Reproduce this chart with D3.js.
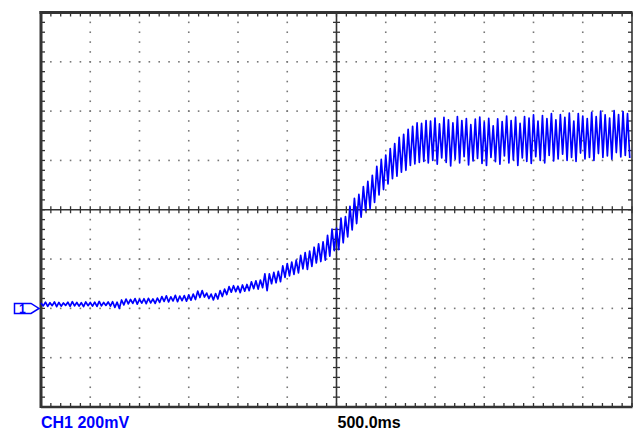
<!DOCTYPE html>
<html>
<head>
<meta charset="utf-8">
<script src="https://cdn.jsdelivr.net/npm/d3@7"></script>
<style>
  html, body { margin: 0; padding: 0; background: #fff; }
  svg { display: block; }
</style>
</head>
<body>
<svg id="scope" width="633" height="431"></svg>
<script>
// Channel 1, peak-detect acquisition: one max/min pair per time bin, in mV above ground.
const ch1Max = [
  22, 25, 23, 26, 24, 22, 25, 27, 24, 23, 26, 24, 25, 28, 24, 26, 27, 25,
  34, 38, 36, 40, 37, 39, 41, 38, 42,
  48, 51, 47, 53, 50, 52, 55, 58,
  70, 72,
  62, 58, 60,
  72, 78,
  88, 92, 90, 95, 97,
  108, 112, 115,
  140,
  140, 146, 150,
  172, 182, 188, 196,
  215, 226, 232,
  248, 262, 270,
  296, 322, 326,
  366, 372,
  414, 446,
  462, 494,
  515, 540,
  576, 604,
  622, 648,
  668, 694,
  706, 726,
  738, 752,
  750, 762,
  760, 772, 748, 775, 765, 752, 778, 762, 770, 745,
  768, 776, 755, 771, 740, 769, 758, 780, 762, 776,
  750, 778, 772, 785, 760, 782, 770, 790, 765, 786,
  775, 792, 760, 790, 780, 770, 795, 778, 800, 785,
  772, 802, 786, 798, 790
];
const ch1Min = [
  10, 8, 11, 7, 9, 12, 8, 10, 9, 7, 11, 9, 8, 10, 12, 9, 4, 0,
  14, 18, 20, 17, 21, 19, 22, 20, 24,
  28, 26, 30, 27, 31, 29, 33, 36,
  44, 46,
  40, 34, 38,
  48, 56,
  66, 68, 64, 70, 72,
  80, 78, 84,
  72,
  100, 104, 108,
  126, 132, 138, 144,
  160, 158, 170,
  184, 190, 196,
  212, 234, 238,
  266, 290,
  318, 344,
  370, 396,
  404, 430,
  460, 482,
  505, 526,
  536, 552,
  560, 580,
  586, 592,
  596, 590,
  600, 585, 610, 592, 578, 605, 590, 615, 582, 598,
  608, 588, 580, 612, 595, 585, 618, 590, 602, 580,
  610, 596, 588, 615, 600, 590, 620, 598, 606, 625,
  600, 612, 596, 630, 606, 612, 600, 628, 612, 618,
  605, 632, 614, 620, 610
];

// Front-panel settings
const voltsPerDiv = 200;     // mV / div
const timePerDiv = 500;      // ms / div
const hDivs = 12;
const vDivs = 8;
const minorPerDiv = 5;
const groundDiv = -2;        // ground reference, divisions from screen centre
const channelLabel = "CH1 200mV";
const timebaseLabel = "500.0ms";

const svg = d3.select("#scope");
const W = 633, H = 431;
const box = { left: 41, right: 632, top: 12.5, bottom: 407 };

const timeSpan = hDivs * timePerDiv;
const x = d3.scaleLinear().domain([0, timeSpan]).range([box.left, box.right]);
const vLow = (-vDivs / 2 - groundDiv) * voltsPerDiv;
const vHigh = (vDivs / 2 - groundDiv) * voltsPerDiv;
const y = d3.scaleLinear().domain([vLow, vHigh]).range([box.bottom, box.top]);

svg.append("rect").attr("width", W).attr("height", H).attr("fill", "#fff");

const frameColor = "#333";
const dotColor = "#777";
const minorT = timePerDiv / minorPerDiv;
const minorV = voltsPerDiv / minorPerDiv;
const tMinor = d3.range(0, hDivs * minorPerDiv + 1).map(i => i * minorT);
const vMinor = d3.range(0, vDivs * minorPerDiv + 1).map(i => vLow + i * minorV);
const tMajor = d3.range(1, hDivs).map(i => i * timePerDiv);
const vMajor = d3.range(1, vDivs).map(i => vLow + i * voltsPerDiv);
const tCentre = timeSpan / 2;
const vCentre = (vLow + vHigh) / 2;

// Dotted graticule
const grid = svg.append("g");
tMajor.filter(t => t !== tCentre).forEach(t => {
  grid.selectAll(null).data(vMinor).join("rect")
    .attr("x", x(t) - 0.8).attr("y", v => y(v) - 0.8)
    .attr("width", 1.6).attr("height", 1.6).attr("fill", dotColor);
});
vMajor.filter(v => v !== vCentre).forEach(v => {
  grid.selectAll(null).data(tMinor).join("rect")
    .attr("x", t => x(t) - 0.8).attr("y", y(v) - 0.8)
    .attr("width", 1.6).attr("height", 1.6).attr("fill", dotColor);
});

// Centre cross with minor ticks
const cross = svg.append("g").attr("stroke", frameColor);
cross.append("line").attr("x1", x(tCentre)).attr("x2", x(tCentre))
  .attr("y1", box.top).attr("y2", box.bottom).attr("stroke-width", 1.6);
cross.append("line").attr("x1", box.left).attr("x2", box.right)
  .attr("y1", y(vCentre)).attr("y2", y(vCentre)).attr("stroke-width", 1.6);
cross.selectAll(null).data(vMinor).join("line")
  .attr("x1", x(tCentre) - 3.5).attr("x2", x(tCentre) + 3.5)
  .attr("y1", v => y(v)).attr("y2", v => y(v)).attr("stroke-width", 1.3);
cross.selectAll(null).data(tMinor).join("line")
  .attr("x1", t => x(t)).attr("x2", t => x(t))
  .attr("y1", y(vCentre) - 3.5).attr("y2", y(vCentre) + 3.5).attr("stroke-width", 1.3);

// Frame and its inward ticks
const frame = svg.append("g").attr("stroke", frameColor).attr("fill", "none");
frame.selectAll(null).data(tMinor).join("line")
  .attr("x1", t => x(t)).attr("x2", t => x(t))
  .attr("y1", box.top).attr("y2", box.top + 4).attr("stroke-width", 1.3);
frame.selectAll(null).data(tMinor).join("line")
  .attr("x1", t => x(t)).attr("x2", t => x(t))
  .attr("y1", box.bottom).attr("y2", box.bottom - 4).attr("stroke-width", 1.3);
frame.selectAll(null).data(vMinor).join("line")
  .attr("x1", box.left).attr("x2", box.left + 4)
  .attr("y1", v => y(v)).attr("y2", v => y(v)).attr("stroke-width", 1.3);
frame.selectAll(null).data(vMinor).join("line")
  .attr("x1", box.right).attr("x2", box.right - 4)
  .attr("y1", v => y(v)).attr("y2", v => y(v)).attr("stroke-width", 1.3);
frame.append("line").attr("x1", box.left - 1.5).attr("x2", box.right + 0.5)
  .attr("y1", box.top).attr("y2", box.top).attr("stroke-width", 3);
frame.append("line").attr("x1", box.left).attr("x2", box.left)
  .attr("y1", box.top - 1.5).attr("y2", box.bottom + 1).attr("stroke-width", 3);
frame.append("line").attr("x1", box.left).attr("x2", box.right + 0.5)
  .attr("y1", box.bottom).attr("y2", box.bottom).attr("stroke-width", 2.4);
frame.append("line").attr("x1", box.right).attr("x2", box.right)
  .attr("y1", box.top).attr("y2", box.bottom).attr("stroke-width", 1.6);

// Trace: alternate max and min of each bin
const binMs = timeSpan / ch1Max.length;
const samples = [];
ch1Max.forEach((hi, i) => {
  samples.push({ t: i * binMs, v: hi });
  samples.push({ t: (i + 0.5) * binMs, v: ch1Min[i] });
});
const traceColor = "#0000ff";
svg.append("path")
  .datum(samples)
  .attr("fill", "none")
  .attr("stroke", traceColor)
  .attr("stroke-width", 1.7)
  .attr("stroke-linejoin", "round")
  .attr("d", d3.line().x(d => x(d.t)).y(d => y(d.v)));

// Ground reference marker
const gy = y(0);
const marker = svg.append("g").attr("stroke", traceColor).attr("fill", "#fff").attr("stroke-width", 1.5);
marker.append("path")
  .attr("d", `M14.5,${gy - 5}H31L39,${gy}L31,${gy + 5}H14.5Z`);
marker.append("text")
  .attr("x", 19).attr("y", gy + 4.5)
  .attr("stroke", "none").attr("fill", traceColor)
  .attr("font-family", "Liberation Sans, Arial, sans-serif")
  .attr("font-weight", "bold").attr("font-size", 12)
  .text("1");

// Readouts
svg.append("text")
  .attr("x", box.left).attr("y", 428)
  .attr("fill", traceColor)
  .attr("font-family", "Liberation Sans, Arial, sans-serif")
  .attr("font-weight", "bold").attr("font-size", 16)
  .text(channelLabel);
svg.append("text")
  .attr("x", x(tCentre) + 1).attr("y", 428)
  .attr("fill", "#000")
  .attr("font-family", "Liberation Sans, Arial, sans-serif")
  .attr("font-weight", "bold").attr("font-size", 16)
  .text(timebaseLabel);
</script>
</body>
</html>
